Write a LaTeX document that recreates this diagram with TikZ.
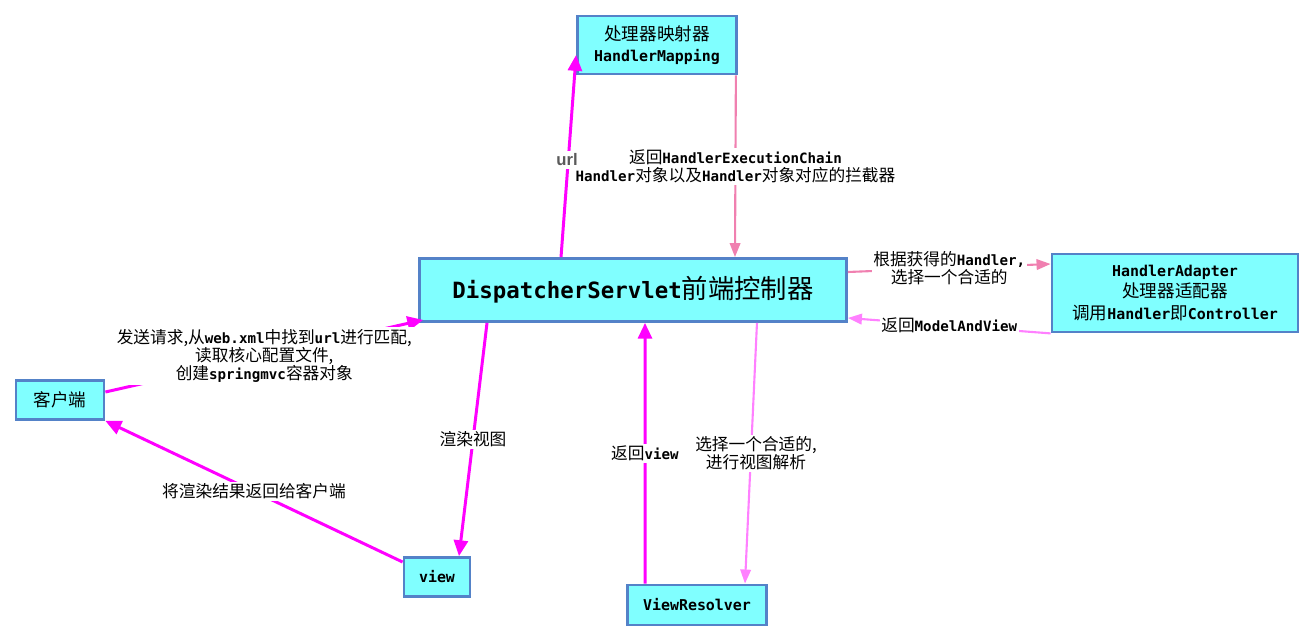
\documentclass[tikz,border=0pt]{standalone}
\usepackage{fontspec}
\usepackage{xcolor}
\usepackage{tikz}
\usetikzlibrary{arrows.meta}
\setmainfont{Noto Sans CJK SC}
\setmonofont{DejaVu Sans Mono}[Scale=0.85]
\newfontfamily\urlfont{Liberation Sans}
\newcommand{\cd}[1]{{\ttfamily\bfseries #1}}
\definecolor{boxfill}{RGB}{128,255,255}
\definecolor{boxline}{RGB}{84,130,200}
\definecolor{hotline}{RGB}{255,0,255}
\definecolor{pinkline}{RGB}{240,128,176}
\definecolor{violetline}{RGB}{255,128,255}
\definecolor{urlgray}{RGB}{90,90,90}

\begin{document}
\begin{tikzpicture}[x=0.02cm,y=-0.02cm]
				\tikzset{box/.style={draw=boxline,fill=boxfill,line width=1.6pt,inner sep=0pt,align=center,font=\fontsize{10}{12}\selectfont},
					hot arrow/.style={draw=hotline,line width=1.7pt,-{Triangle[length=9pt,width=8pt]}},
					pink arrow/.style={draw=pinkline,line width=1.2pt,-{Triangle[length=8pt,width=6pt]}},
					violet arrow/.style={draw=violetline,line width=1.2pt,-{Triangle[length=8pt,width=6pt]}},
					note/.style={fill=white,inner sep=1pt,align=center,font=\fontsize{9.5}{10.5}\selectfont}}
				\useasboundingbox (0,0) rectangle (1315,642);

				\node[box,minimum width=3.18cm,minimum height=1.16cm] (hm) at (657,45) {处理器映射器\\\cd{HandlerMapping}};
				\node[box,minimum width=8.54cm,minimum height=1.26cm,font=\fontsize{15}{17}\selectfont] (ds) at (633,290) {\cd{DispatcherServlet}前端控制器};
				\node[box,minimum width=4.92cm,minimum height=1.56cm] (ha) at (1175,293) {\cd{HandlerAdapter}\\处理器适配器\\调用\cd{Handler}即\cd{Controller}};
				\node[box,minimum width=1.76cm,minimum height=0.78cm] (kh) at (60,400) {客户端};
				\node[box,minimum width=1.32cm,minimum height=0.78cm] (view) at (437,577) {\cd{view}};
				\node[box,minimum width=2.78cm,minimum height=0.8cm] (vr) at (697,605) {\cd{ViewResolver}};

				\draw[hot arrow] ([yshift=0.16cm]kh.east) -- node[note]{发送请求,从\cd{web.xml}中找到\cd{url}进行匹配,\\读取核心配置文件,\\创建\cd{springmvc}容器对象} ([xshift=0.1cm,yshift=0.06cm]ds.south west);
				\draw[hot arrow] ([xshift=-1.44cm]ds.north) -- ([yshift=-0.2cm]hm.west);
				\draw[pink arrow] ([xshift=-0.04cm]hm.south east) -- node[note]{返回\cd{HandlerExecutionChain}\\\cd{Handler}对象以及\cd{Handler}对象对应的拦截器} ([xshift=2.04cm]ds.north);
				\draw[pink arrow] ([yshift=0.36cm]ds.east) -- node[note]{根据获得的\cd{Handler,}\\选择一个合适的} ([yshift=0.58cm]ha.west);
				\draw[violet arrow] (ha.south west) -- node[note]{返回\cd{ModelAndView}} ([yshift=-0.56cm]ds.east);
				\draw[hot arrow] ([xshift=-2.92cm]ds.south) -- node[note]{渲染视图} ([xshift=0.44cm]view.north);
				\draw[hot arrow] ([xshift=-1.04cm]vr.north) -- node[note]{返回\cd{view}} ([xshift=0.24cm]ds.south);
				\draw[violet arrow] ([xshift=2.48cm]ds.south) -- node[note,xshift=0.1cm]{选择一个合适的,\\进行视图解析} ([xshift=0.96cm]vr.north);
				\draw[hot arrow] ([yshift=0.3cm]view.west) -- node[note]{将渲染结果返回给客户端} (kh.south east);

				% url label over its connector
				\node[fill=white,inner sep=1.5pt,text=urlgray,font=\urlfont\bfseries\fontsize{9.5}{11}\selectfont] (url) at (567,160) {url};
			\end{tikzpicture}
\end{document}
